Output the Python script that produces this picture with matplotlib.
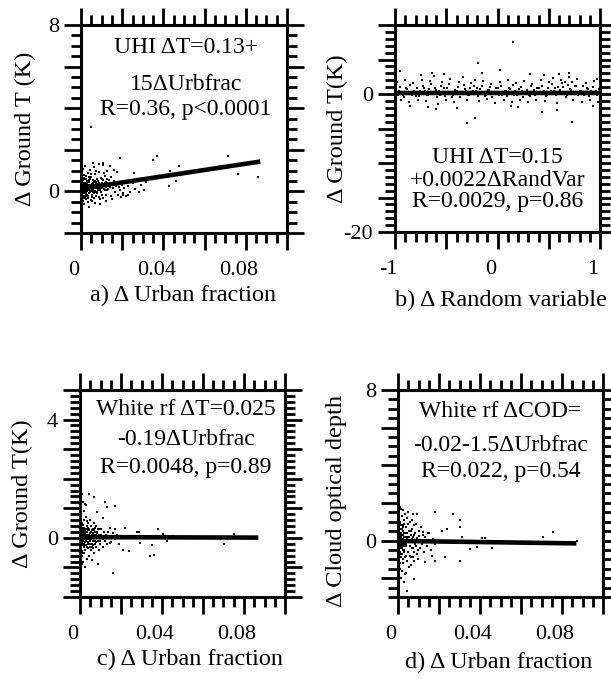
import matplotlib
matplotlib.use("Agg")
import matplotlib.pyplot as plt
from matplotlib.ticker import MultipleLocator, FixedLocator, FixedFormatter
from matplotlib.transforms import ScaledTranslation

plt.rcParams['font.family'] = ['Liberation Serif', 'DejaVu Serif']

# ---- data ----
# panel a: d Ground T vs d Urban fraction
A_X = [0.0005, 0.0008, 0.0010, 0.0012, 0.0015, 0.0018, 0.0020, 0.0022, 0.0025, 0.0028, 0.0030, 0.0032, 0.0035, 0.0038,
       0.0040, 0.0042, 0.0045, 0.0048, 0.0050, 0.0052, 0.0055, 0.0058, 0.0060, 0.0062, 0.0065, 0.0068, 0.0070, 0.0072,
       0.0075, 0.0078, 0.0080, 0.0082, 0.0085, 0.0088, 0.0090, 0.0092, 0.0095, 0.0098, 0.0100, 0.0103, 0.0106, 0.0110,
       0.0113, 0.0116, 0.0120, 0.0123, 0.0126, 0.0130, 0.0135, 0.0140, 0.0145, 0.0150, 0.0155, 0.0160, 0.0165, 0.0170,
       0.0175, 0.0180, 0.0185, 0.0190, 0.0195, 0.0200, 0.0205, 0.0210, 0.0220, 0.0230, 0.0240,
       0.0003, 0.0004, 0.0006, 0.0009, 0.0013, 0.0016, 0.0021, 0.0026, 0.0033, 0.0036, 0.0044, 0.0047, 0.0053, 0.0063,
       0.0067, 0.0074, 0.0086, 0.0094, 0.0105, 0.0118,
       0.0007, 0.0011, 0.0014, 0.0017, 0.0019, 0.0023, 0.0027, 0.0029, 0.0031, 0.0034, 0.0037, 0.0039, 0.0041, 0.0043,
       0.0046, 0.0049, 0.0051, 0.0054, 0.0056, 0.0059, 0.0061, 0.0064, 0.0066, 0.0069, 0.0071, 0.0076, 0.0079, 0.0084,
       0.0089, 0.0096, 0.0101, 0.0108, 0.0114, 0.0121, 0.0128, 0.0138, 0.0148, 0.0158,
       0.0049, 0.0370, 0.0350, 0.0475, 0.0434, 0.0460, 0.0426, 0.0714, 0.0760, 0.0857, 0.0255, 0.0304, 0.0228, 0.0206,
       0.0190, 0.0109, 0.0060, 0.0250, 0.0270, 0.0290, 0.0315, 0.0330, 0.0280, 0.0260, 0.0175, 0.0160, 0.0140, 0.0125,
       0.0085, 0.0150, 0.0120, 0.0090, 0.0040]
A_Y = [0.10, -0.20, 0.35, -0.45, 0.05, 0.60, -0.10, 0.25, -0.35, 0.45, 0.00, 0.15, -0.25, 0.55,
       0.30, -0.05, 0.20, -0.40, 0.70, 0.10, -0.15, 0.40, 0.05, -0.30, 0.25, 0.85, 0.00, -0.20,
       0.35, 0.15, -0.10, 0.50, 0.20, -0.25, 0.30, 0.05, 0.65, -0.05, 0.40, 0.15, -0.30, 0.25,
       0.90, 0.05, 0.45, -0.15, 0.30, 0.10, 0.55, 0.20, -0.20, 0.35, 0.15, 0.50, -0.05, 0.25,
       0.40, -0.15, 0.20, 0.05, -0.25, 0.30, -0.10, 0.15, -0.20, 0.25, -0.05,
       -0.70, 0.95, -0.55, 1.10, 0.80, -0.60, 1.20, 0.75, 0.90, -0.50, 1.05, 0.85, -0.45, 1.15,
       -0.55, 1.00, 0.95, -0.35, 1.25, 0.75,
       0.20, 0.00, 0.30, -0.05, 0.15, 0.40, 0.10, -0.15, 0.50, 0.25, 0.05, -0.10, 0.45, 0.20,
       0.60, 0.00, 0.35, 0.25, -0.05, 0.15, 0.45, -0.10, 0.30, 0.50, 0.20, 0.60, -0.05, 0.35,
       0.10, 0.25, -0.15, 0.55, 0.35, 0.20, 0.60, 0.35, 0.70, 0.30,
       3.10, 1.68, 1.52, 1.20, 0.96, 0.48, 0.24, 1.68, 0.84, 0.69, 0.88, 0.08, -0.16, -0.16,
       1.60, 1.36, 1.36, 0.40, 0.55, 0.30, 0.45, 0.60, -0.05, 0.10, 0.95, 1.05, 1.20, 1.00,
       1.30, -0.35, -0.45, -0.60, -0.75]
A_X2 = [0.0006, 0.0009, 0.0012, 0.0016, 0.0019, 0.0024, 0.0028, 0.0032, 0.0036, 0.0040, 0.0044, 0.0048, 0.0052,
        0.0056, 0.0060, 0.0064, 0.0068, 0.0072, 0.0077, 0.0081, 0.0087, 0.0093, 0.0099, 0.0104, 0.0111, 0.0117,
        0.0124, 0.0132, 0.0001, 0.0002, 0.0003, 0.0004, 0.0005, 0.0007, 0.0010, 0.0014, 0.0018, 0.0022, 0.0026,
        0.0030, 0.0034, 0.0038]
A_Y2 = [0.30, -0.10, 0.55, 0.20, -0.30, 0.10, 0.35, -0.20, 0.45, 0.05, 0.30, 0.20, -0.25,
        0.55, 0.35, 0.15, -0.05, 0.45, 0.25, 0.05, 0.40, 0.15, 0.30, 0.60, 0.10, 0.40,
        0.05, 0.25, 0.45, -0.35, 0.25, -0.10, 0.55, 0.00, -0.30, 0.65, -0.20, 0.05, 0.60,
        0.35, -0.30, 0.70]
A_FIT = [0.13, 15.0]        # intercept, slope
A_XEND = 0.087

# dense core near zero urban change (shared x for a, c, d)
CORE_X = [0.0001, 0.0002, 0.0003, 0.0004, 0.0005, 0.0006, 0.0007, 0.0008, 0.0009, 0.0010, 0.0011, 0.0012, 0.0013,
          0.0014, 0.0015, 0.0016, 0.0017, 0.0018, 0.0019, 0.0020, 0.0021, 0.0022, 0.0023, 0.0024, 0.0025, 0.0026,
          0.0027, 0.0028, 0.0029, 0.0030]
A_CORE_Y = [0.05, -0.15, 0.25, -0.05, 0.15, -0.25, 0.35, 0.0, 0.2, -0.1, 0.3, 0.1, -0.2,
            0.4, 0.05, -0.3, 0.25, 0.15, -0.05, 0.35, 0.0, 0.2, -0.15, 0.3, 0.1, -0.1,
            0.45, 0.05, 0.25, -0.2]
C_CORE_Y = [0.1, -0.1, 0.2, -0.2, 0.0, 0.3, -0.3, 0.15, -0.05, 0.25, -0.15, 0.05, 0.35,
            -0.25, 0.1, -0.1, 0.2, -0.2, 0.0, 0.3, -0.3, 0.15, -0.05, 0.25, -0.15, 0.05,
            0.2, -0.1, 0.1, 0.0]
D_CORE_Y = [0.3, -0.5, 0.7, -0.2, 0.1, -0.8, 0.5, -0.3, 0.9, 0.0, -0.6, 0.4, -0.1,
            0.6, -0.9, 0.2, -0.4, 0.8, -0.2, 0.3, -0.7, 0.1, 0.5, -0.5, 0.0, 0.7,
            -0.3, 0.2, -0.6, 0.4]

# panel b: d Ground T vs d Random variable
B_X = [-0.99, -0.97, -0.95, -0.93, -0.91, -0.89, -0.87, -0.85, -0.83, -0.81, -0.79, -0.77, -0.75, -0.73, -0.71,
       -0.69, -0.67, -0.65, -0.63, -0.61, -0.59, -0.57, -0.55, -0.53, -0.51, -0.49, -0.47, -0.45, -0.43, -0.41,
       -0.39, -0.37, -0.35, -0.33, -0.31, -0.29, -0.27, -0.25, -0.23, -0.21, -0.19, -0.17, -0.15, -0.13, -0.11,
       -0.09, -0.07, -0.05, -0.03, -0.01, 0.01, 0.03, 0.05, 0.07, 0.09, 0.11, 0.13, 0.15, 0.17, 0.19,
       0.21, 0.23, 0.25, 0.27, 0.29, 0.31, 0.33, 0.35, 0.37, 0.39, 0.41, 0.43, 0.45, 0.47, 0.49,
       0.51, 0.53, 0.55, 0.57, 0.59, 0.61, 0.63, 0.65, 0.67, 0.69, 0.71, 0.73, 0.75, 0.77, 0.79,
       0.81, 0.83, 0.85, 0.87, 0.89, 0.91, 0.93, 0.95, 0.97, 0.99,
       -0.98, -0.94, -0.90, -0.86, -0.82, -0.78, -0.74, -0.70, -0.66, -0.62, -0.58, -0.54, -0.50, -0.46, -0.42,
       -0.38, -0.34, -0.30, -0.26, -0.22, -0.18, -0.14, -0.10, -0.06, -0.02, 0.02, 0.06, 0.10, 0.14, 0.18,
       0.22, 0.26, 0.30, 0.34, 0.38, 0.42, 0.46, 0.50, 0.54, 0.58, 0.62, 0.66, 0.70, 0.74, 0.78,
       0.82, 0.86, 0.90, 0.94, 0.98,
       0.154, -0.187, -0.154, 0.024, -0.64, -0.95, -0.52, 0.70, 0.32, 0.97, -0.30, -0.22, 0.73, -0.85, -0.68,
       0.13, 0.20, 0.43, 0.58, 0.93, -0.60, -0.40, 0.45, -0.75, 0.60]
B_Y = [0.6, -0.2, 1.0, 0.3, -0.4, 0.8, 0.1, 1.3, -0.1, 0.5, 0.9, -0.3, 0.2, 1.1, 0.4,
       -0.2, 0.7, 1.5, 0.0, 0.9, -0.5, 0.4, 1.2, 0.1, -0.3, 0.8, 1.4, 0.2, -0.1, 0.6,
       1.0, -0.4, 0.3, 1.3, 0.5, -0.2, 0.9, 0.0, 1.1, 0.4, -0.3, 0.7, 1.2, 0.1, -0.1,
       0.6, 1.0, -0.4, 0.3, 0.8, -0.2, 1.1, 0.2, 0.5, -0.3, 0.9, 0.0, 1.3, 0.4, -0.1,
       0.7, 1.0, -0.4, 0.2, 0.6, -0.2, 1.1, 0.3, -0.1, 0.8, 0.0, 1.2, 0.5, -0.3, 0.9,
       0.1, 1.4, 0.4, -0.2, 1.0, 0.6, 1.6, 0.2, -0.4, 1.3, 0.7, 1.8, 0.1, 1.1, -0.2,
       0.5, 1.2, 0.0, 0.8, -0.3, 0.4, 1.0, 0.2, -0.1, 0.7,
       1.8, -0.9, 2.1, -1.2, 1.6, -0.8, 2.0, -1.0, 1.9, 2.6, -1.4, 1.7, -0.9, 2.2, -1.1,
       1.8, 2.4, -0.8, 1.6, 2.0, -1.0, 1.9, -0.7, 1.5, -1.3, 1.7, -0.9, 2.1, -1.1, 1.6,
       -0.8, 1.9, -1.2, 1.5, -0.9, 2.0, -1.0, 1.8, 2.3, -1.3, 2.1, 1.7, 2.5, -0.9, 2.2,
       -1.1, 1.6, -0.8, 1.9, -1.2,
       7.5, 4.45, 3.04, 3.5, 3.1, 3.4, 2.9, 3.0, 2.9, 2.2, -4.2, -3.5, -4.1, -1.8, -1.9,
       -1.7, -1.9, -2.6, -2.3, -1.7, -2.2, -2.0, 2.8, 2.7, 2.9]
B_X2 = [-0.96, -0.92, -0.88, -0.84, -0.80, -0.76, -0.72, -0.68, -0.64, -0.60, -0.56, -0.52, -0.48, -0.44, -0.40,
        -0.36, -0.32, -0.28, -0.24, -0.20, -0.16, -0.12, -0.08, -0.04, 0.00, 0.04, 0.08, 0.12, 0.16, 0.20,
        0.24, 0.28, 0.32, 0.36, 0.40, 0.44, 0.48, 0.52, 0.56, 0.60, 0.64, 0.68, 0.72, 0.76, 0.80,
        0.84, 0.88, 0.92, 0.96, 1.00]
B_Y2 = [0.4, -0.1, 0.7, 0.2, -0.3, 0.5, 0.9, -0.2, 0.3, 0.6, -0.1, 0.8, 0.2, -0.4, 0.5,
        0.1, 0.7, -0.2, 0.4, 0.9, 0.0, -0.3, 0.6, 0.2, 0.8, -0.1, 0.4, 0.7, -0.2, 0.3,
        0.5, 0.1, -0.3, 0.6, 0.9, 0.2, -0.1, 0.5, 0.8, 0.3, 1.0, -0.2, 0.6, 1.2, 0.4,
        -0.1, 0.7, 0.2, 0.5, 0.3]
B_FIT = [0.15, 0.0022]
B_XSTART, B_XEND = -1.0, 1.0

# panel c: white roof d Ground T vs d Urban fraction
C_X = [0.0002, 0.0004, 0.0006, 0.0008, 0.0010, 0.0012, 0.0014, 0.0016, 0.0018, 0.0020, 0.0022, 0.0024, 0.0026,
       0.0028, 0.0030, 0.0032, 0.0034, 0.0036, 0.0038, 0.0040, 0.0042, 0.0044, 0.0046, 0.0048, 0.0050, 0.0052,
       0.0054, 0.0056, 0.0058, 0.0060, 0.0062, 0.0064, 0.0066, 0.0068, 0.0070, 0.0072, 0.0074, 0.0076, 0.0078,
       0.0080, 0.0083, 0.0086, 0.0089, 0.0092, 0.0095, 0.0098, 0.0102, 0.0106, 0.0110, 0.0115, 0.0120, 0.0125,
       0.0130, 0.0135, 0.0140, 0.0150, 0.0160, 0.0170, 0.0180, 0.0190,
       0.0005, 0.0009, 0.0013, 0.0017, 0.0021, 0.0025, 0.0029, 0.0035,
       0.0011, 0.0015, 0.0019, 0.0023, 0.0027, 0.0031, 0.0033, 0.0037, 0.0039, 0.0043, 0.0047, 0.0051, 0.0055,
       0.0059, 0.0063, 0.0067, 0.0071, 0.0075,
       0.0045, 0.0024, 0.0070, 0.0122, 0.0170, 0.0130, 0.0081, 0.0114, 0.0033, 0.0073, 0.0098, 0.0146, 0.0170,
       0.0220, 0.0277, 0.0290, 0.0382, 0.0406, 0.0455, 0.0423, 0.0350, 0.0341, 0.0360, 0.0293, 0.0240, 0.0211,
       0.0162, 0.0089, 0.0057, 0.0001, 0.0704, 0.0753, 0.0146]
C_Y = [0.4, -0.3, 0.8, -0.6, 0.1, 0.5, -0.2, 0.3, -0.5, 0.6, 0.0, -0.4, 0.2,
       0.7, -0.1, 0.4, -0.3, 0.1, 0.5, -0.2, 0.3, -0.6, 0.0, 0.6, -0.1, 0.2,
       -0.4, 0.4, 0.1, -0.3, 0.3, -0.1, 0.5, 0.0, -0.5, 0.2, -0.2, 0.4, 0.1,
       -0.3, 0.2, -0.1, 0.3, -0.4, 0.1, -0.2, 0.3, 0.0, -0.3, 0.2, -0.1, 0.1,
       -0.2, 0.2, 0.0, -0.15, 0.15, -0.05, 0.1, -0.2,
       1.0, -0.9, 1.2, -0.8, 0.9, -1.0, 1.1, -0.7,
       0.25, -0.1, 0.15, -0.25, 0.05, 0.2, -0.05, -0.15, 0.25, 0.1, -0.2, 0.15, -0.05,
       0.25, -0.25, 0.1, -0.1, 0.2,
       1.49, 1.14, 1.37, 1.20, 1.09, 1.03, 0.86, 0.68, 0.57, 0.34, 0.29, 0.34, 0.29,
       0.34, 0.21, 0.20, 0.29, 0.12, 0.06, -0.11, -0.25, -0.63, -0.57, -0.17, -0.43, -0.40,
       -1.20, -0.89, -0.74, -1.03, -0.21, 0.12, -0.17]
CD_X2 = [0.0001, 0.0003, 0.0005, 0.0007, 0.0009, 0.0011, 0.0013, 0.0015, 0.0017, 0.0019, 0.0021, 0.0023, 0.0025,
         0.0027, 0.0029, 0.0031, 0.0034, 0.0037, 0.0040, 0.0043, 0.0046, 0.0049, 0.0053, 0.0057, 0.0061, 0.0065,
         0.0069, 0.0073, 0.0079, 0.0085, 0.0091, 0.0097, 0.0104, 0.0112, 0.0001, 0.0002, 0.0004, 0.0006, 0.0008,
         0.0012]
C_Y2 = [0.15, -0.15, 0.3, -0.35, 0.05, -0.5, 0.45, -0.05, 0.25, -0.3, 0.35, 0.1, -0.15,
        0.3, -0.25, 0.0, 0.2, -0.35, 0.35, -0.05, 0.25, -0.3, 0.05, -0.2, 0.15, -0.35,
        0.25, 0.0, -0.15, 0.15, 0.05, -0.1, 0.1, -0.05, 1.3, -1.3, 0.6, -0.7, 1.5,
        -0.45]
C_FIT = [0.025, -0.19]
C_XEND = 0.087

# panel d: white roof d Cloud optical depth vs d Urban fraction
D_X = [0.0002, 0.0004, 0.0006, 0.0008, 0.0010, 0.0012, 0.0014, 0.0016, 0.0018, 0.0020, 0.0022, 0.0024, 0.0026,
       0.0028, 0.0030, 0.0032, 0.0034, 0.0036, 0.0038, 0.0040, 0.0042, 0.0044, 0.0046, 0.0048, 0.0050, 0.0052,
       0.0054, 0.0056, 0.0058, 0.0060, 0.0062, 0.0064, 0.0066, 0.0068, 0.0070, 0.0072, 0.0074, 0.0076, 0.0078,
       0.0080, 0.0083, 0.0086, 0.0089, 0.0092, 0.0095, 0.0098, 0.0102, 0.0106, 0.0110, 0.0115, 0.0120, 0.0125,
       0.0130, 0.0140, 0.0150, 0.0160, 0.0170, 0.0180,
       0.0003, 0.0007, 0.0011, 0.0015, 0.0019, 0.0023, 0.0027, 0.0031, 0.0035, 0.0039, 0.0043, 0.0047,
       0.0005, 0.0009, 0.0013, 0.0017, 0.0021, 0.0025, 0.0029, 0.0033, 0.0041, 0.0049,
       0.0045, 0.0078, 0.0010, 0.0075, 0.0091, 0.0180, 0.0270, 0.0300, 0.0300, 0.0238, 0.0213, 0.0310, 0.0408,
       0.0425, 0.0709, 0.0758, 0.0875, 0.0351, 0.0385, 0.0457, 0.0300, 0.0229, 0.0180, 0.0132, 0.0165, 0.0124,
       0.0148]
D_Y = [1.5, -1.0, 0.6, -0.4, 1.0, -1.5, 0.3, -0.7, 1.3, -0.2, 0.8, -1.2, 0.1,
       -0.5, 1.1, -0.9, 0.4, -1.8, 0.7, -0.3, 1.2, -1.1, 0.2, -0.6, 0.9, -1.4,
       0.5, -0.1, 1.0, -0.8, 0.3, -1.3, 0.6, -0.4, 1.1, -0.9, 0.2, -0.6, 0.8,
       -1.1, 0.4, -0.3, 0.9, -0.7, 0.1, -1.0, 0.5, -0.4, 0.7, -0.2, 0.3, -0.6,
       0.2, -0.3, 0.4, -0.5, 0.1, -0.2,
       0.0, 0.2, -0.2, 0.1, -0.3, 0.3, -0.1, 0.0, 0.2, -0.2, 0.1, -0.05,
       2.1, 1.8, -2.0, 1.7, -1.6, 1.6, -2.2, 1.4, -1.7, 1.5,
       -2.67, -2.04, 1.78, 1.42, 1.42, 1.51, 1.39, 1.07, 0.71, 0.62, 0.53, 0.21, 0.14,
       0.14, 0.18, 0.44, -0.05, -0.44, -0.35, -0.39, -1.07, -0.89, -1.07, -1.16, -0.82, 0.44,
       0.40]
D_Y2 = [0.5, -0.6, 0.2, -0.9, 0.8, -0.3, 0.4, -0.7, 0.1, -0.4, 0.6, -1.0, 0.3,
        -0.2, 0.9, -0.5, 0.0, -0.8, 0.7, -0.1, 0.4, -0.6, 0.2, -0.3, 0.5, -0.9,
        0.1, -0.4, 0.3, -0.2, 0.15, -0.5, 0.25, -0.1, 2.3, -2.4, 1.9, -2.0, 1.0,
        -1.2]
D_FIT = [-0.02, -1.5]
D_XEND = 0.087

# text
ANNOT_A = ['UHI \u0394T=0.13+', '15\u0394Urbfrac', 'R=0.36, p<0.0001']
ANNOT_B = ['UHI \u0394T=0.15', '+0.0022\u0394RandVar', 'R=0.0029, p=0.86']
ANNOT_C = ['White rf \u0394T=0.025', '-0.19\u0394Urbfrac', 'R=0.0048, p=0.89']
ANNOT_D = ['White rf \u0394COD=', '-0.02-1.5\u0394Urbfrac', 'R=0.022, p=0.54']

URB_XTICKS = [0, 0.02, 0.04, 0.06, 0.08, 0.1]
URB_XLABELS = ['0', '', '0.04', '', '0.08', '']
RV_XTICKS = [-1, -0.5, 0, 0.5, 1]
RV_XLABELS = ['-1', '', '0', '', '1']

TICK_FS = 16
TEXT_FS = 17
LABEL_FS = 17.5

# ---- figure ----
fig = plt.figure(figsize=(6.11, 6.79), dpi=100)
W, H = 611.0, 679.0


def make_axes(left, top, right, bottom):
    return fig.add_axes([left / W, 1 - bottom / H, (right - left) / W, (bottom - top) / H])


def style(ax, xt, xl, ymaj, ymin, ylab_text, xminor):
    ax.xaxis.set_major_locator(FixedLocator(xt))
    ax.xaxis.set_major_formatter(FixedFormatter(xl))
    ax.xaxis.set_minor_locator(MultipleLocator(xminor))
    ax.yaxis.set_major_locator(FixedLocator(ymaj))
    ax.yaxis.set_major_formatter(FixedFormatter(ylab_text))
    ax.yaxis.set_minor_locator(MultipleLocator(ymin))
    ax.tick_params(which='both', direction='out', top=True, right=True, width=2.0, labelsize=TICK_FS)
    ax.tick_params(which='major', length=12)
    ax.tick_params(which='minor', length=7)
    ax.tick_params(axis='x', pad=8)
    ax.tick_params(axis='y', pad=4)
    for s in ax.spines.values():
        s.set_linewidth(2.2)
    off = ScaledTranslation(-7 / 100, 0, fig.dpi_scale_trans)
    for lab in ax.get_xticklabels():
        lab.set_transform(lab.get_transform() + off)


def annotate(ax, lines, xs, ys):
    for t, y in zip(lines, ys):
        ax.text(xs, 1 - y, t, transform=ax.transAxes, ha='center', va='center', fontsize=TEXT_FS)


def labels(ax, xlab, xpos, ylab, ypos):
    ax.set_xlabel(xlab, fontsize=LABEL_FS, va='center')
    ax.xaxis.set_label_coords(*xpos)
    ax.set_ylabel(ylab, fontsize=LABEL_FS, va='center')
    ax.yaxis.set_label_coords(*ypos)


DOT = dict(s=2.6, c='black', marker='s', linewidths=0)
LINE = dict(color='black', lw=3.3, solid_capstyle='butt')

# a
ax = make_axes(81, 25, 287, 233)
ax.scatter(A_X, A_Y, **DOT)
ax.scatter(A_X2, A_Y2, **DOT)
ax.scatter(CORE_X, A_CORE_Y, **DOT)
ax.plot([0, A_XEND], [A_FIT[0], A_FIT[0] + A_FIT[1] * A_XEND], **LINE)
ax.set_xlim(0, 0.1)
ax.set_ylim(-2, 8)
style(ax, URB_XTICKS, URB_XLABELS, [-2, 0, 2, 4, 6, 8], 0.5, ['', '0', '', '', '', '8'], 0.005)
annotate(ax, ANNOT_A, 0.51, [0.11, 0.284, 0.404])
labels(ax, 'a) \u0394 Urban fraction', (0.496, -0.298), '\u0394 Ground T (K)', (-0.27, 0.5))

# b
ax = make_axes(395, 25, 600, 232)
ax.scatter(B_X, B_Y, **DOT)
ax.scatter(B_X2, B_Y2, **DOT)
ax.plot([B_XSTART, B_XEND], [B_FIT[0] + B_FIT[1] * B_XSTART, B_FIT[0] + B_FIT[1] * B_XEND], **LINE)
ax.set_xlim(-1, 1)
ax.set_ylim(-20, 10)
style(ax, RV_XTICKS, RV_XLABELS, [-20, -15, -10, -5, 0, 5, 10], 1, ['-20', '', '', '', '0', '', ''], 0.1)
annotate(ax, ANNOT_B, 0.5, [0.638, 0.749, 0.855])
labels(ax, 'b) \u0394 Random variable', (0.516, -0.333), '\u0394 Ground T(K)', (-0.28, 0.5))

# c
ax = make_axes(80, 390, 285, 597)
ax.scatter(C_X, C_Y, **DOT)
ax.scatter(CD_X2, C_Y2, **DOT)
ax.scatter(CORE_X, C_CORE_Y, **DOT)
ax.plot([0, C_XEND], [C_FIT[0], C_FIT[0] + C_FIT[1] * C_XEND], **LINE)
ax.set_xlim(0, 0.1)
ax.set_ylim(-2, 5)
style(ax, URB_XTICKS, URB_XLABELS, [-2, -1, 0, 1, 2, 3, 4, 5], 0.2, ['', '', '0', '', '', '', '4', ''], 0.005)
annotate(ax, ANNOT_C, 0.516, [0.092, 0.237, 0.372])
labels(ax, 'c) \u0394 Urban fraction', (0.537, -0.304), '\u0394 Ground T(K)', (-0.28, 0.5))

# d
ax = make_axes(398, 390, 603, 597)
ax.scatter(D_X, D_Y, **DOT)
ax.scatter(CD_X2, D_Y2, **DOT)
ax.scatter(CORE_X, D_CORE_Y, **DOT)
ax.plot([0, D_XEND], [D_FIT[0], D_FIT[0] + D_FIT[1] * D_XEND], **LINE)
ax.set_xlim(0, 0.1)
ax.set_ylim(-3, 8)
style(ax, URB_XTICKS, URB_XLABELS, [-2, 0, 2, 4, 6, 8], 0.5, ['', '0', '', '', '', '8'], 0.005)
annotate(ax, ANNOT_D, 0.5, [0.106, 0.27, 0.396])
labels(ax, 'd) \u0394 Urban fraction', (0.493, -0.314), '\u0394 Cloud optical depth', (-0.298, 0.464))

fig.savefig('out.png', dpi=100)
